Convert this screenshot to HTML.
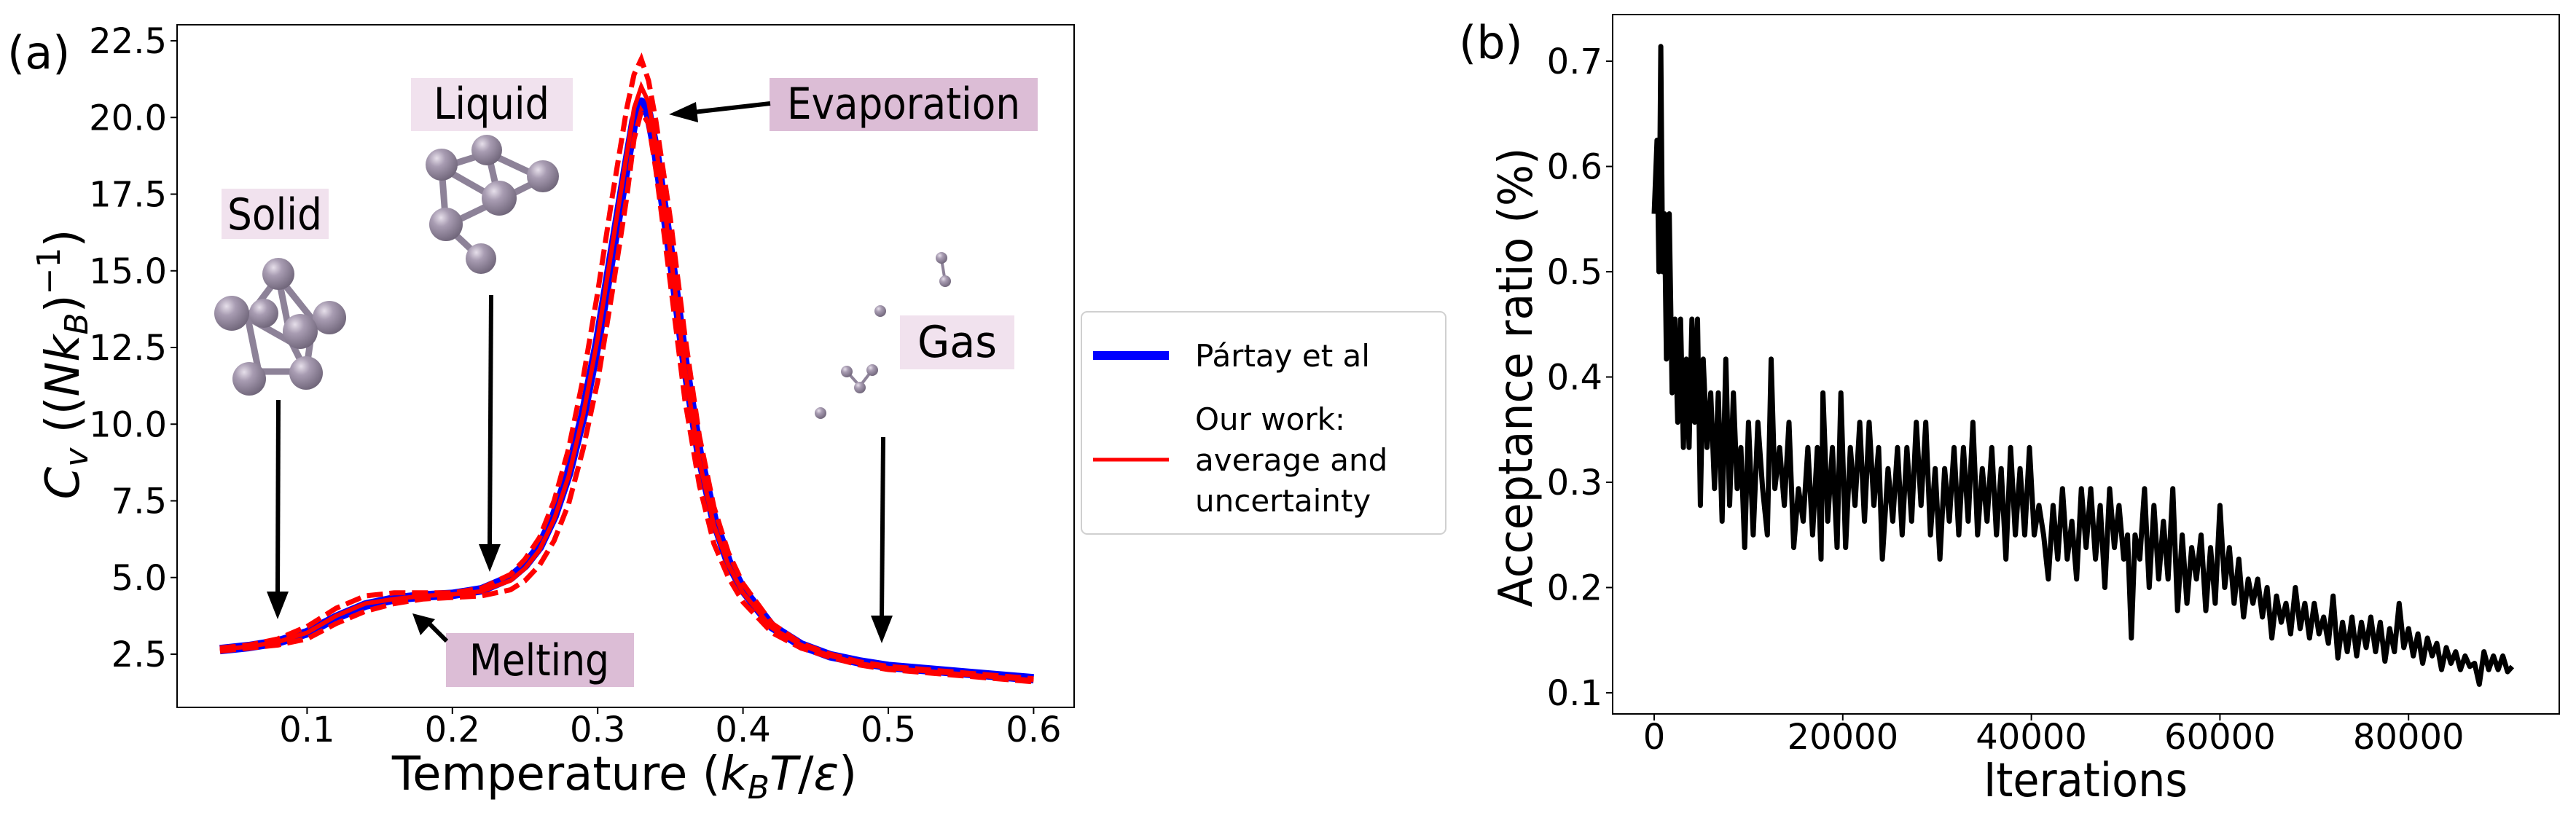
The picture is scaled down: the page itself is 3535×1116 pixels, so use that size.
<!DOCTYPE html>
<html><head><meta charset="utf-8"><style>
html,body{margin:0;padding:0;background:#fff}
svg{display:block}
text{font-family:"DejaVu Sans","Liberation Sans",sans-serif}
</style></head><body>
<svg id="fig" width="3535" height="1116" viewBox="0 0 3535 1116" xmlns="http://www.w3.org/2000/svg">
<defs>
<radialGradient id="ball" cx="0.35" cy="0.3" r="0.75">
<stop offset="0" stop-color="#e6dfea"/><stop offset="0.35" stop-color="#a89cb2"/><stop offset="1" stop-color="#6e6478"/>
</radialGradient>
</defs>
<g id="pa"></g>
<g id="pb"></g>
</svg>
<script>
// ---------- Panel (a) data ----------
const tempT = [0.04,0.06,0.08,0.1,0.12,0.14,0.16,0.18,0.2,0.22,0.24,0.25,0.26,0.27,0.28,0.29,0.30,0.31,0.32,0.325,0.33,0.335,0.34,0.35,0.36,0.37,0.38,0.39,0.40,0.42,0.44,0.46,0.48,0.5,0.55,0.6];
const cvPartay = [2.65,2.75,2.9,3.2,3.7,4.1,4.3,4.4,4.45,4.6,5.0,5.4,6.0,7.0,8.4,10.3,12.7,15.6,18.5,19.9,20.5,20.1,18.9,15.6,12.0,9.0,6.9,5.5,4.6,3.4,2.8,2.45,2.25,2.1,1.9,1.7];
const cvMean = [2.65,2.75,2.9,3.2,3.75,4.15,4.3,4.4,4.45,4.55,4.9,5.3,5.9,6.9,8.3,10.3,12.8,15.8,18.8,20.3,21.0,20.5,19.1,15.6,11.8,8.8,6.7,5.4,4.5,3.35,2.8,2.45,2.2,2.05,1.85,1.65];
const cvUpper = [2.7,2.8,3.0,3.4,4.0,4.4,4.5,4.5,4.5,4.65,5.1,5.6,6.3,7.5,9.2,11.5,14.3,17.4,20.3,21.4,21.9,21.2,19.9,16.7,12.9,9.6,7.3,5.8,4.8,3.5,2.85,2.5,2.25,2.1,1.9,1.7];
const cvLower = [2.6,2.7,2.8,3.0,3.5,3.9,4.15,4.3,4.35,4.4,4.6,4.9,5.4,6.2,7.4,9.2,11.4,14.3,17.4,19.3,20.2,19.8,18.3,14.6,10.8,8.0,6.1,5.0,4.2,3.2,2.7,2.4,2.15,2.0,1.8,1.6];
const aXTicks = [0.1,0.2,0.3,0.4,0.5,0.6];
const aYTicks = [2.5,5.0,7.5,10.0,12.5,15.0,17.5,20.0,22.5];

// ---------- Panel (b) data ----------
const iters = [0,300,500,700,900,1100,1300,1600,1900,2200,2500,2800,3100,3400,3700,4000,4300,4600,4900,5200,5600,6000,6400,6800,7200,7600,8000,8400,8800,9200,9600,10000,10500,11000,11500,12000,12400,12800,13300,13800,14300,14800,15300,15800,16300,16800,17300,17700,17900,18400,18900,19400,19800,20300,20800,21300,21800,22300,22800,23300,23800,24200,24800,25300,25800,26300,26800,27300,27800,28300,28800,29300,29800,30300,30800,31300,31800,32300,32800,33300,33800,34300,34800,35300,35800,36300,36800,37300,37800,38300,38800,39300,39800,40300,40800,41300,41800,42300,42800,43300,43800,44300,44800,45300,45800,46300,46800,47300,47800,48300,48800,49300,49800,50200,50600,51000,51500,52000,52500,53000,53500,54000,54500,55000,55500,56000,56500,57000,57500,58000,58500,59000,59500,60000,60500,61000,61500,62000,62500,63000,63500,64000,64500,65000,65500,66000,66500,67000,67500,68000,68500,69000,69500,70000,70500,71000,71500,72000,72500,73000,73500,74000,74500,75000,75500,76000,76500,77000,77500,78000,78500,79000,79500,80000,80500,81000,81500,82000,82500,83000,83500,84000,84500,85000,85500,86000,86500,87000,87500,88000,88500,89000,89500,90000,90500,91000];
const accRatio = [0.555,0.625,0.5,0.714,0.5,0.555,0.417,0.555,0.385,0.455,0.357,0.455,0.333,0.417,0.333,0.455,0.357,0.455,0.278,0.417,0.333,0.385,0.294,0.385,0.263,0.417,0.278,0.385,0.294,0.333,0.238,0.357,0.25,0.357,0.294,0.25,0.417,0.294,0.333,0.278,0.357,0.238,0.294,0.263,0.333,0.25,0.333,0.227,0.385,0.263,0.333,0.238,0.385,0.238,0.333,0.278,0.357,0.263,0.357,0.278,0.333,0.227,0.313,0.263,0.333,0.25,0.333,0.263,0.357,0.278,0.357,0.25,0.313,0.227,0.313,0.263,0.333,0.25,0.333,0.263,0.357,0.25,0.313,0.263,0.333,0.25,0.313,0.227,0.333,0.25,0.313,0.25,0.333,0.25,0.278,0.25,0.208,0.278,0.227,0.294,0.227,0.263,0.208,0.294,0.238,0.294,0.227,0.278,0.2,0.294,0.238,0.278,0.227,0.25,0.152,0.25,0.227,0.294,0.2,0.278,0.208,0.263,0.208,0.294,0.178,0.25,0.185,0.238,0.208,0.25,0.178,0.238,0.185,0.278,0.2,0.238,0.185,0.227,0.172,0.208,0.185,0.208,0.172,0.2,0.152,0.192,0.167,0.185,0.156,0.2,0.161,0.185,0.152,0.185,0.156,0.172,0.147,0.192,0.133,0.167,0.139,0.172,0.135,0.167,0.143,0.172,0.139,0.167,0.13,0.161,0.139,0.185,0.143,0.161,0.135,0.156,0.128,0.152,0.135,0.147,0.122,0.143,0.128,0.139,0.122,0.135,0.125,0.128,0.108,0.139,0.122,0.135,0.122,0.135,0.12,0.125];
const bXTicks = [0,20000,40000,60000,80000];
const bYTicks = [0.1,0.2,0.3,0.4,0.5,0.6,0.7];

const NS = "http://www.w3.org/2000/svg";
function mk(parent, tag, attrs, txt){
  const e = document.createElementNS(NS, tag);
  for (const k in attrs) e.setAttribute(k, attrs[k]);
  if (txt !== undefined) e.textContent = txt;
  parent.appendChild(e);
  return e;
}
function pathD(xs, ys, fx, fy){ return xs.map((x,i)=>(i?'L':'M')+fx(x).toFixed(1)+','+fy(ys[i]).toFixed(1)).join(' '); }

// ===== Panel A =====
const A = {l:243, r:1474, t:34, b:971};
const ax = v => 222 + v * 1994;
const ay = v => 898 - (v - 2.5) * 42.1;
const pa = document.getElementById('pa');
let s;
s = mk(pa,'path',{d:pathD(tempT,cvPartay,ax,ay),fill:'none',stroke:'#0000ff','stroke-width':13,'stroke-linejoin':'round'});
 
s = mk(pa,'path',{d:pathD(tempT,cvUpper,ax,ay),fill:'none',stroke:'#ff0000','stroke-width':7,'stroke-dasharray':'22,9'});
 
s = mk(pa,'path',{d:pathD(tempT,cvLower,ax,ay),fill:'none',stroke:'#ff0000','stroke-width':7,'stroke-dasharray':'22,9'});
 
s = mk(pa,'path',{d:pathD(tempT,cvMean,ax,ay),fill:'none',stroke:'#ff0000','stroke-width':6});
 

s = mk(pa,'rect',{x:A.l,y:A.t,width:A.r-A.l,height:A.b-A.t,fill:'none',stroke:'#000','stroke-width':2});
 
aXTicks.forEach(v=>{
  const x = ax(v);
  mk(pa,'line',{x1:x,x2:x,y1:A.b,y2:A.b+9,stroke:'#000','stroke-width':2});
  const t = mk(pa,'text',{x:x,y:A.b+47,'font-size':48,'text-anchor':'middle'},v.toFixed(1));
   
});
aYTicks.forEach(v=>{
  const y = ay(v);
  mk(pa,'line',{x1:A.l-9,x2:A.l,y1:y,y2:y,stroke:'#000','stroke-width':2});
  const t = mk(pa,'text',{x:A.l-14,y:y+17,'font-size':48,'text-anchor':'end'},v.toFixed(1));
   
});

// ===== Panel B =====
const B = {l:2213, r:3512, t:20, b:980};
const bx = v => 2270 + v / 20000 * 258.8;
const by = v => 951 - (v - 0.1) * 1445;
const pb = document.getElementById('pb');
s = mk(pb,'path',{d:pathD(iters,accRatio,bx,by),fill:'none',stroke:'#000','stroke-width':7,'stroke-linejoin':'round'});
 
s = mk(pb,'rect',{x:B.l,y:B.t,width:B.r-B.l,height:B.b-B.t,fill:'none',stroke:'#000','stroke-width':2});
 
bXTicks.forEach(v=>{
  const x = bx(v);
  mk(pb,'line',{x1:x,x2:x,y1:B.b,y2:B.b+9,stroke:'#000','stroke-width':2});
  const t = mk(pb,'text',{x:x,y:B.b+48,'font-size':48,'text-anchor':'middle'},String(v));
   
});
bYTicks.forEach(v=>{
  const y = by(v);
  mk(pb,'line',{x1:B.l-9,x2:B.l,y1:y,y2:y,stroke:'#000','stroke-width':2});
  const t = mk(pb,'text',{x:B.l-14,y:y+17,'font-size':48,'text-anchor':'end'},v.toFixed(1));
   
});
</script>
<svg width="3535" height="1116" viewBox="0 0 3535 1116" style="position:absolute;left:0;top:0" xmlns="http://www.w3.org/2000/svg">
<text x="10" y="94" font-size="62" font-family="DejaVu Sans, sans-serif">(a)</text>
<text x="2002" y="80" font-size="62" font-family="DejaVu Sans, sans-serif">(b)</text>
<text transform="translate(108,500) rotate(-90)" font-size="64" text-anchor="middle" font-family="DejaVu Sans, sans-serif"><tspan font-style="italic">C</tspan><tspan font-size="44" font-style="italic" dy="12">v</tspan><tspan dy="-12"> ((</tspan><tspan font-style="italic">Nk</tspan><tspan font-size="44" font-style="italic" dy="12">B</tspan><tspan dy="-12">)</tspan><tspan font-size="44" dy="-26">−1</tspan><tspan dy="26">)</tspan></text>
<text x="857" y="1084" font-size="64" text-anchor="middle" font-family="DejaVu Sans, sans-serif">Temperature (<tspan font-style="italic">k</tspan><tspan font-size="44" font-style="italic" dy="12">B</tspan><tspan dy="-12" font-style="italic">T</tspan>/<tspan font-style="italic">ε</tspan>)</text>
<text transform="translate(2102,518) rotate(-90)" font-size="64" text-anchor="middle" textLength="631" lengthAdjust="spacingAndGlyphs" font-family="DejaVu Sans, sans-serif">Acceptance ratio (%)</text>
<text x="2862" y="1093" font-size="64" text-anchor="middle" textLength="280" lengthAdjust="spacingAndGlyphs" font-family="DejaVu Sans, sans-serif">Iterations</text>

<!-- legend -->
<g font-family="DejaVu Sans, sans-serif" font-size="42">
<rect x="1484" y="428" width="500" height="305" rx="8" fill="#fff" stroke="#d0d0d0" stroke-width="2"/>
<line x1="1500" x2="1604" y1="488" y2="488" stroke="#0000ff" stroke-width="12"/>
<text x="1640" y="503">Pártay et al</text>
<line x1="1500" x2="1604" y1="631" y2="631" stroke="#ff0000" stroke-width="5"/>
<text x="1640" y="590">Our work:</text>
<text x="1640" y="646">average and</text>
<text x="1640" y="702">uncertainty</text>
</g>

<!-- labels -->
<g font-family="DejaVu Sans, sans-serif" font-size="60">
<rect x="304" y="259" width="147" height="69" fill="#f1e2ee"/>
<text x="312" y="315" textLength="130" lengthAdjust="spacingAndGlyphs">Solid</text>
<rect x="564" y="107" width="222" height="73" fill="#f1e2ee"/>
<text x="595" y="163" textLength="159" lengthAdjust="spacingAndGlyphs">Liquid</text>
<rect x="1056" y="107" width="368" height="73" fill="#dcbdd6"/>
<text x="1080" y="163" textLength="320" lengthAdjust="spacingAndGlyphs">Evaporation</text>
<rect x="1235" y="433" width="157" height="74" fill="#f1e2ee"/>
<text x="1259" y="490" textLength="109" lengthAdjust="spacingAndGlyphs">Gas</text>
<rect x="612" y="869" width="258" height="74" fill="#dcbdd6"/>
<text x="644" y="927" textLength="192" lengthAdjust="spacingAndGlyphs">Melting</text>
</g>

<!-- arrows -->
<g stroke="#000" stroke-width="6" fill="none">
<line x1="382" y1="549" x2="381" y2="815"/>
<line x1="674" y1="405" x2="672" y2="750"/>
<line x1="1212" y1="600" x2="1210" y2="850"/>
<line x1="1057" y1="142" x2="952" y2="154"/>
<line x1="613" y1="880" x2="588" y2="855"/>
</g>
<g fill="#000">
<polygon points="366,812 396,812 381,850"/>
<polygon points="657,747 687,747 672,785"/>
<polygon points="1195,845 1225,845 1210,883"/>
<polygon points="955,140 958,168 918,157"/>
<polygon points="577,872 597,850 566,842"/>
</g>

<!-- molecules -->
<g>
<g stroke="#8d8298" stroke-width="9">
<line x1="382" y1="380" x2="340" y2="436"/><line x1="382" y1="380" x2="430" y2="440"/><line x1="382" y1="380" x2="400" y2="470"/>
<line x1="340" y1="436" x2="355" y2="510"/><line x1="430" y1="440" x2="420" y2="510"/><line x1="355" y1="510" x2="420" y2="510"/>
<line x1="340" y1="436" x2="400" y2="470"/><line x1="400" y1="470" x2="420" y2="510"/>
</g>
<circle cx="382" cy="376" r="22" fill="url(#ball)"/><circle cx="318" cy="430" r="24" fill="url(#ball)"/>
<circle cx="452" cy="436" r="23" fill="url(#ball)"/><circle cx="362" cy="430" r="20" fill="url(#ball)"/>
<circle cx="412" cy="455" r="24" fill="url(#ball)"/><circle cx="342" cy="520" r="23" fill="url(#ball)"/>
<circle cx="420" cy="512" r="23" fill="url(#ball)"/>
</g>
<g>
<g stroke="#8d8298" stroke-width="9">
<line x1="606" y1="230" x2="670" y2="210"/><line x1="670" y1="210" x2="745" y2="245"/><line x1="606" y1="230" x2="685" y2="275"/>
<line x1="685" y1="275" x2="745" y2="245"/><line x1="606" y1="230" x2="612" y2="310"/><line x1="612" y1="310" x2="685" y2="275"/>
<line x1="670" y1="210" x2="685" y2="275"/><line x1="612" y1="310" x2="660" y2="355"/>
</g>
<circle cx="606" cy="226" r="22" fill="url(#ball)"/><circle cx="668" cy="206" r="21" fill="url(#ball)"/>
<circle cx="745" cy="242" r="22" fill="url(#ball)"/><circle cx="685" cy="272" r="24" fill="url(#ball)"/>
<circle cx="612" cy="308" r="23" fill="url(#ball)"/><circle cx="660" cy="355" r="21" fill="url(#ball)"/>
</g>
<g>
<line x1="1292" y1="356" x2="1297" y2="386" stroke="#8d8298" stroke-width="4"/>
<line x1="1162" y1="510" x2="1180" y2="530" stroke="#8d8298" stroke-width="4"/>
<line x1="1180" y1="530" x2="1197" y2="508" stroke="#8d8298" stroke-width="4"/>
<circle cx="1292" cy="354" r="8" fill="url(#ball)"/><circle cx="1297" cy="386" r="8" fill="url(#ball)"/>
<circle cx="1208" cy="427" r="8" fill="url(#ball)"/><circle cx="1162" cy="510" r="8" fill="url(#ball)"/>
<circle cx="1197" cy="508" r="8" fill="url(#ball)"/><circle cx="1180" cy="532" r="8" fill="url(#ball)"/>
<circle cx="1126" cy="567" r="8" fill="url(#ball)"/>
</g>
</svg>
</body></html>
